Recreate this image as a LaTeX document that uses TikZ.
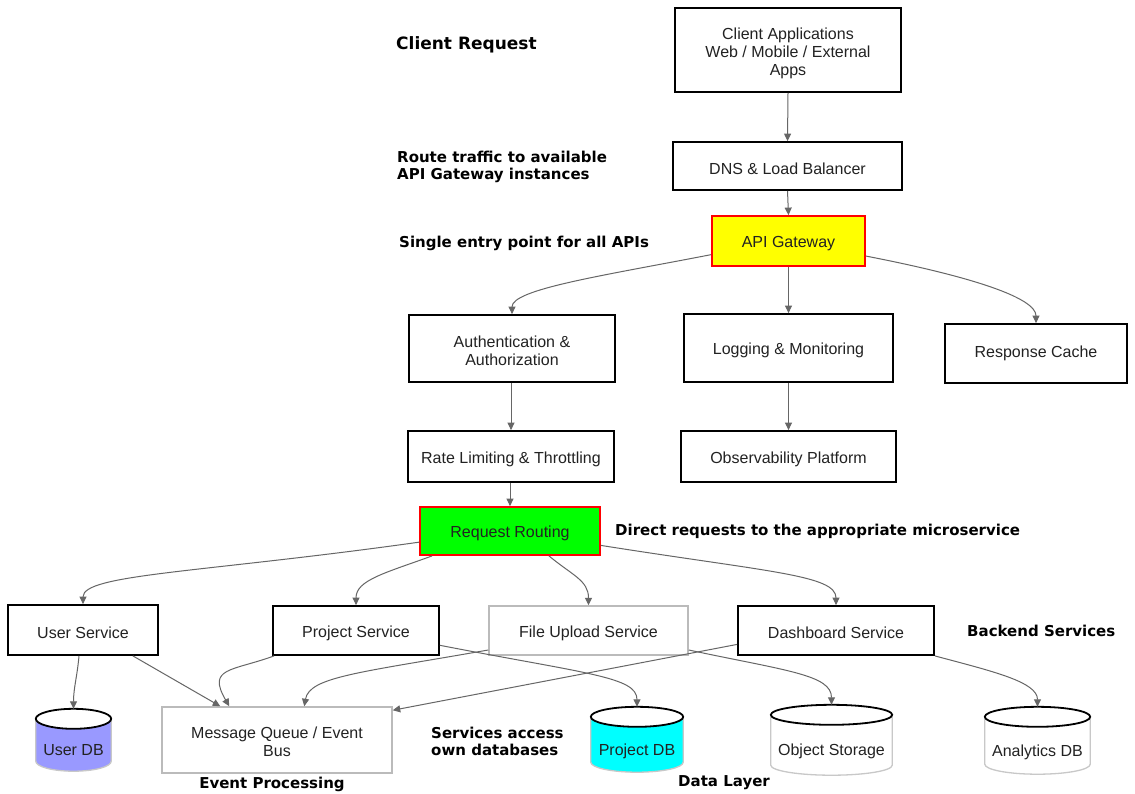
\documentclass[tikz,border=0pt]{standalone}
\usepackage{fontspec}
\setmainfont{Liberation Sans}
\newfontfamily\lblfont{DejaVu Sans}
\usetikzlibrary{arrows.meta,calc,backgrounds}
\definecolor{edgegray}{HTML}{666666}
\definecolor{lightborder}{HTML}{BBBBBB}
\definecolor{sidegray}{HTML}{C8C8C8}
\definecolor{userdb}{HTML}{9999FF}
\definecolor{projdb}{HTML}{00FFFF}
\definecolor{gwyellow}{HTML}{FFFF00}
\definecolor{rrgreen}{HTML}{00FF00}
\definecolor{txt}{HTML}{222222}
\newcommand{\dbtext}[1]{\raisebox{-15.5pt}[0pt][0pt]{#1}}
\newcommand{\topstrut}[1]{\rule{0pt}{#1}}
\newcommand{\dbcyl}[2]{%
  \fill[#2] let \p1=(#1.north west), \p2=(#1.south east), \n1={(\x2-\x1)/2} in
    (\x1,\y1-10pt) -- (\x1,\y2+10pt) arc[start angle=180,end angle=360,x radius=\n1,y radius=10pt] -- (\x2,\y1-10pt) -- cycle;
  \draw[sidegray,line width=1.3pt] let \p1=(#1.north west), \p2=(#1.south east), \n1={(\x2-\x1)/2} in
    (\x1,\y1-10pt) -- (\x1,\y2+10pt) arc[start angle=180,end angle=360,x radius=\n1,y radius=10pt] -- (\x2,\y1-10pt);
  \draw[black,fill=white,line width=1.8pt] let \p1=(#1.north west), \p2=(#1.south east), \n1={(\x2-\x1)/2} in
    ($(#1.north)+(0,-10)$) ellipse[x radius=\n1,y radius=10pt];
}
\begin{document}
\begin{tikzpicture}[x=1pt,y=1pt,
  nfont/.style={font=\fontsize{16}{18}\selectfont, text=txt},
  strut/.style={execute at begin node={\rule{0pt}{16.7pt}}},
  box/.style={nfont, strut, draw=black, line width=1.8pt, fill=white, inner sep=2pt, align=center},
  lightbox/.style={nfont, strut, draw=lightborder, line width=1.5pt, fill=white, inner sep=2pt, align=center},
  redbox/.style={nfont, strut, draw=red, line width=1.8pt, inner sep=2pt, align=center},
  db/.style={nfont, inner sep=0pt},
  lbl/.style={font=\lblfont\bfseries\fontsize{15}{17}\selectfont, execute at begin node={\rule{0pt}{15.8pt}}, text=black, inner sep=0pt, align=left},
  edge/.style={draw=edgegray, line width=1pt, -{Triangle[length=7.5pt,width=7pt]}}]

\begin{scope}[on background layer]
\fill[white] (0,0) rectangle (1135,-793);
\end{scope}
\useasboundingbox (0,0) rectangle (1135,-793);

% labels
\node[lbl, anchor=west, font=\lblfont\bfseries\fontsize{17}{19}\selectfont] (lclient) at (396,-43) {Client Request};
\node[lbl, anchor=west] (lroute) at (397,-166.5) {Route traffic to available\\API Gateway instances};
\node[lbl, anchor=west] (lsingle) at (399,-241) {Single entry point for all APIs};
\node[lbl, anchor=west] (ldirect) at (615,-529) {Direct requests to the appropriate microservice};
\node[lbl, anchor=west] (lbackend) at (967,-629) {Backend Services};
\node[lbl, anchor=west] (lservices) at (431,-741) {Services access\\own databases};
\node[lbl] (levent) at (272,-782) {Event Processing};
\node[lbl, anchor=west] (ldata) at (678,-780) {Data Layer};

% nodes
\node[box, minimum width=226, minimum height=84] (client) at (788,-50) {\topstrut{17.7pt}Client Applications\\Web / Mobile / External\\Apps};
\node[box, minimum width=229, minimum height=48] (dns) at (787.5,-166) {DNS \& Load Balancer};
\node[redbox, fill=gwyellow, minimum width=153, minimum height=50] (api) at (788.5,-241) {API Gateway};
\node[box, minimum width=206, minimum height=67] (auth) at (512,-348.5) {\topstrut{15.7pt}Authentication \&\\Authorization};
\node[box, minimum width=209, minimum height=68] (log) at (788.5,-348) {Logging \& Monitoring};
\node[box, minimum width=182, minimum height=59, execute at begin node={\rule[-8pt]{0pt}{8pt}}] (cache) at (1036,-353.5) {Response Cache};
\node[box, minimum width=206, minimum height=51] (rate) at (511,-456.5) {Rate Limiting \& Throttling};
\node[box, minimum width=215, minimum height=51] (obs) at (788.5,-456.5) {Observability Platform};
\node[redbox, fill=rrgreen, minimum width=180, minimum height=48] (rr) at (510,-531) {Request Routing};
\node[box, minimum width=150, minimum height=50] (user) at (83,-630) {User Service};
\node[box, minimum width=166, minimum height=49] (proj) at (356,-630.5) {Project Service};
\node[lightbox, minimum width=199, minimum height=49] (file) at (588.5,-630.5) {File Upload Service};
\node[box, minimum width=196, minimum height=49] (dash) at (836,-630.5) {Dashboard Service};
\node[lightbox, minimum width=230, minimum height=66] (mq) at (277,-740) {\topstrut{14.7pt}Message Queue / Event\\Bus};
\node[db, minimum width=75, minimum height=62] (udb) at (73.5,-740) {\dbtext{User DB}};
\node[db, minimum width=92, minimum height=65] (pdb) at (637,-739.5) {\dbtext{Project DB}};
\node[db, minimum width=121, minimum height=70] (os) at (831.5,-740) {\dbtext{Object Storage}};
\node[db, minimum width=105, minimum height=67] (adb) at (1037.5,-740.5) {\dbtext{Analytics DB}};

\begin{scope}[on background layer]
\dbcyl{udb}{userdb}
\dbcyl{pdb}{projdb}
\dbcyl{os}{white}
\dbcyl{adb}{white}
\end{scope}

% edges
\draw[edge] (client.south) -- (dns.north);
\draw[edge] (dns.south) -- (api.north);
\draw[edge] (api.190) to[out=191,in=90,out distance=110,in distance=25] (auth.north);
\draw[edge] (api.south) -- (log.north);
\draw[edge] (api.-11) to[out=-11,in=90,out distance=110,in distance=25] (cache.north);
\draw[edge] (auth.south -| rate.north) -- (rate.north);
\draw[edge] (log.south) -- (obs.north);
\draw[edge] (rate.south -| rr.north) -- (rr.north);
\draw[edge] (rr.187) to[out=188,in=90,out distance=220,in distance=30] (user.north);
\draw[edge] ($(rr.south west)+(13,0)$) to[out=200,in=90,out distance=50,in distance=25] (proj.north);
\draw[edge] ($(rr.south)+(39,0)$) to[out=-40,in=90,out distance=30,in distance=25] (file.north);
\draw[edge] (rr.-9) to[out=-9,in=90,out distance=170,in distance=30] (dash.north);
\draw[edge] ($(user.south)+(-4,0)$) to[out=-95,in=90] (udb.north);
\draw[edge] ($(user.south east)+(-26,0)$) -- ($(mq.north west)+(59,0)$);
\draw[edge] ($(proj.south west)+(2,0)$) to[out=200,in=120,out distance=45,in distance=45] ($(mq.north west)+(68,0)$);
\draw[edge] (proj.-10) to[out=-11,in=90,out distance=150,in distance=30] (pdb.north);
\draw[edge] (file.191) to[out=190,in=80,out distance=130,in distance=30] ($(mq.north west)+(143,0)$);
\draw[edge] (file.-11) to[out=-12,in=90,out distance=100,in distance=30] (os.north);
\draw[edge] (dash.188) -- ($(mq.north east)+(0,-4)$);
\draw[edge] (dash.south east) to[out=-15,in=90,out distance=60,in distance=25] (adb.north);
\end{tikzpicture}
\end{document}
